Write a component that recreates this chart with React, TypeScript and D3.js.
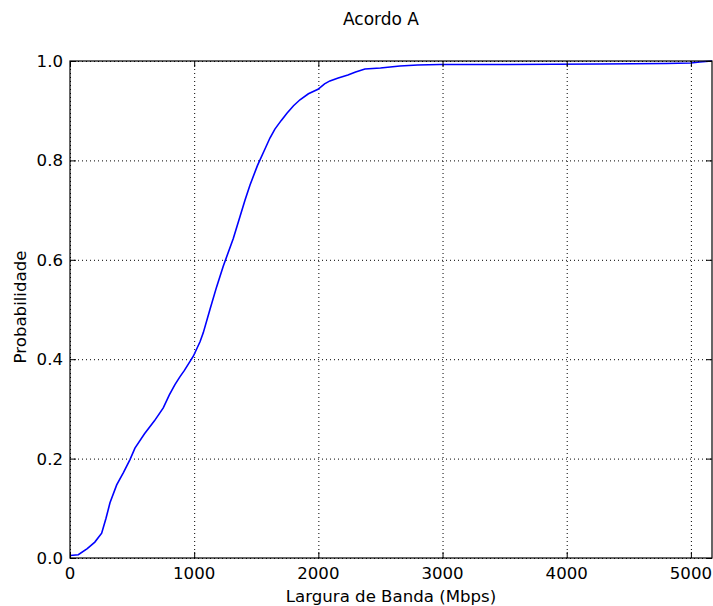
import { useRef, useEffect } from "react";
import * as d3 from "d3";

// CDF points
const bandwidth = [0, 67, 139, 200, 255, 290, 322, 376, 430, 483, 523, 600, 680, 751, 800, 845, 886, 920, 993, 1047, 1073, 1127, 1180, 1234, 1315, 1409, 1449, 1510, 1570, 1610, 1650, 1700, 1747, 1800, 1852, 1920, 1997, 2050, 2093, 2160, 2238, 2300, 2375, 2500, 2657, 2800, 2979, 3500, 4267, 4800, 5000, 5072, 5120, 5170];
const probability = [0.005, 0.0066, 0.019, 0.032, 0.05, 0.08, 0.111, 0.147, 0.172, 0.198, 0.221, 0.25, 0.276, 0.302, 0.328, 0.349, 0.365, 0.377, 0.406, 0.435, 0.453, 0.5, 0.545, 0.587, 0.643, 0.72, 0.75, 0.79, 0.823, 0.845, 0.863, 0.88, 0.895, 0.91, 0.922, 0.934, 0.943, 0.954, 0.96, 0.966, 0.972, 0.978, 0.984, 0.986, 0.99, 0.992, 0.993, 0.993, 0.994, 0.995, 0.996, 0.998, 0.999, 1.0];

const xTicks = [0, 1000, 2000, 3000, 4000, 5000];
const yTicks = [0.0, 0.2, 0.4, 0.6, 0.8, 1.0];

const title = "Acordo A";
const xLabel = "Largura de Banda (Mbps)";
const yLabel = "Probabilidade";

export default function App() {
  const svgRef = useRef<SVGSVGElement>(null);

  useEffect(() => {
    if (!svgRef.current) return;
    const svg = d3.select(svgRef.current);
    svg.selectAll("*").remove();

    const width = 713;
    const height = 606;
    const left = 70, right = 712, top = 61, bottom = 558;
    const font = "DejaVu Sans, sans-serif";

    const x = d3.scaleLinear().domain([0, 5170]).range([left, right]);
    const y = d3.scaleLinear().domain([0, 1]).range([bottom, top]);

    svg.attr("viewBox", `0 0 ${width} ${height}`);
    svg.append("rect").attr("width", width).attr("height", height).attr("fill", "white");

    // grid
    const grid = svg.append("g").attr("stroke", "black").attr("stroke-width", 1).attr("stroke-dasharray", "1,3");
    xTicks.forEach(t => {
      grid.append("line").attr("x1", x(t) + 0.5).attr("x2", x(t) + 0.5).attr("y1", top).attr("y2", bottom);
    });
    yTicks.forEach(t => {
      grid.append("line").attr("x1", left).attr("x2", right).attr("y1", y(t) + 0.5).attr("y2", y(t) + 0.5);
    });

    // curve
    const line = d3.line<number>()
      .x((_, i) => x(bandwidth[i]))
      .y(d => y(d));
    svg.append("path")
      .datum(probability)
      .attr("fill", "none")
      .attr("stroke", "blue")
      .attr("stroke-width", 1.6)
      .attr("d", line);

    // frame
    svg.append("rect")
      .attr("x", left).attr("y", top)
      .attr("width", right - left).attr("height", bottom - top)
      .attr("fill", "none").attr("stroke", "black").attr("stroke-width", 1.2);

    // inward ticks on all sides
    const ticks = svg.append("g").attr("stroke", "black").attr("stroke-width", 1);
    xTicks.forEach(t => {
      const px = x(t) + 0.5;
      ticks.append("line").attr("x1", px).attr("x2", px).attr("y1", bottom).attr("y2", bottom - 6);
      ticks.append("line").attr("x1", px).attr("x2", px).attr("y1", top).attr("y2", top + 6);
    });
    yTicks.forEach(t => {
      const py = y(t) + 0.5;
      ticks.append("line").attr("x1", left).attr("x2", left + 6).attr("y1", py).attr("y2", py);
      ticks.append("line").attr("x1", right).attr("x2", right - 6).attr("y1", py).attr("y2", py);
    });

    // tick labels
    svg.append("g").selectAll("text").data(xTicks).join("text")
      .attr("x", d => x(d))
      .attr("y", 578.5)
      .attr("text-anchor", "middle")
      .attr("font-family", font)
      .attr("font-size", 16.6)
      .text(d => d3.format("d")(d));
    svg.append("g").selectAll("text").data(yTicks).join("text")
      .attr("x", 63)
      .attr("y", d => y(d) + 6)
      .attr("text-anchor", "end")
      .attr("font-family", font)
      .attr("font-size", 16.6)
      .text(d => d3.format(".1f")(d));

    // titles
    svg.append("text")
      .attr("x", 381)
      .attr("y", 25)
      .attr("text-anchor", "middle")
      .attr("font-family", font)
      .attr("font-size", 17)
      .text(title);
    svg.append("text")
      .attr("x", (left + right) / 2)
      .attr("y", 602)
      .attr("text-anchor", "middle")
      .attr("font-family", font)
      .attr("font-size", 16.6)
      .text(xLabel);
    svg.append("text")
      .attr("transform", `translate(25.5,307) rotate(-90)`)
      .attr("text-anchor", "middle")
      .attr("font-family", font)
      .attr("font-size", 16.6)
      .text(yLabel);
  }, []);

  return (
    <svg
      ref={svgRef}
      width={713}
      height={606}
      style={{ position: "absolute", left: 0, top: 0, display: "block" }}
    ></svg>
  );
}
